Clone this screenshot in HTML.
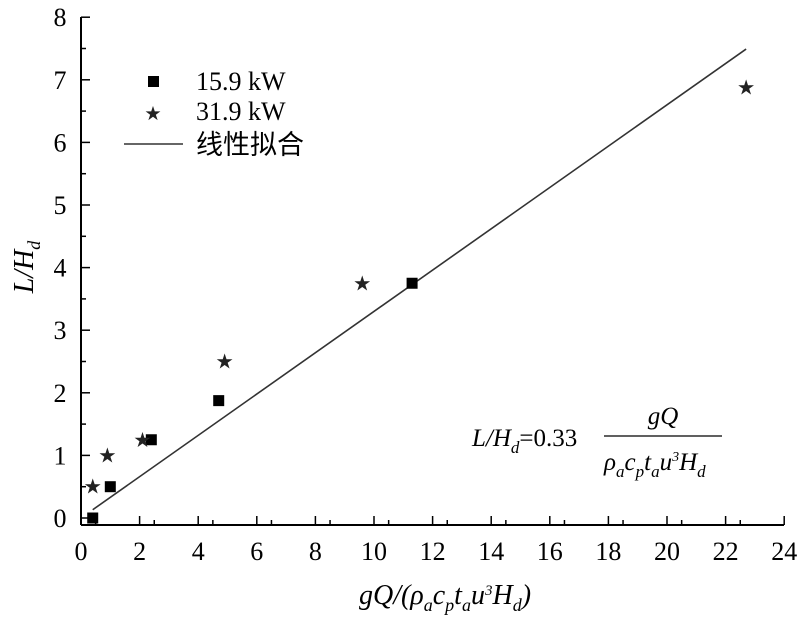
<!DOCTYPE html>
<html><head><meta charset="utf-8"><style>
body{margin:0;background:#fff}
svg{display:block;font-family:"Liberation Serif","Noto Serif CJK SC",serif}
</style></head><body>
<svg id="c" width="800" height="626" viewBox="0 0 800 626">
<g id="axes"></g>
<g id="marks"></g>
<g>
<rect x="148" y="76" width="11" height="11" fill="#000"/>
<text x="196" y="90" font-size="26">15.9 kW</text>
<text x="153" y="119" font-size="16" text-anchor="middle" fill="#222">★</text>
<text x="196" y="120" font-size="26">31.9 kW</text>
<line x1="124" y1="144" x2="183" y2="144" stroke="#333" stroke-width="1.5"/>
<text x="196" y="154" font-size="27" font-family="Noto Sans CJK SC, sans-serif">线性拟合</text>
</g>
<text transform="translate(33,267) rotate(-90)" font-size="28" font-style="italic" text-anchor="middle">L/H<tspan font-size="18" dy="7">d</tspan></text>
<text x="445" y="604" font-size="28" font-style="italic" text-anchor="middle">gQ/(ρ<tspan font-size="18" dy="7">a</tspan><tspan dy="-7">c</tspan><tspan font-size="18" dy="7">p</tspan><tspan dy="-7">t</tspan><tspan font-size="18" dy="7">a</tspan><tspan dy="-7">u</tspan><tspan font-size="15" dy="-9">3</tspan><tspan dy="9">H</tspan><tspan font-size="18" dy="7">d</tspan><tspan dy="-7">)</tspan></text>
<g font-size="25">
<text x="472" y="446" font-style="italic">L/H<tspan font-size="17" dy="7">d</tspan><tspan dy="-7" font-style="normal">=0.33</tspan></text>
<text x="663" y="424" font-style="italic" text-anchor="middle">gQ</text>
<line x1="604" y1="436" x2="722" y2="436" stroke="#000" stroke-width="1.2"/>
<text x="604" y="470" font-style="italic">ρ<tspan font-size="17" dy="7">a</tspan><tspan dy="-7">c</tspan><tspan font-size="17" dy="7">p</tspan><tspan dy="-7">t</tspan><tspan font-size="17" dy="7">a</tspan><tspan dy="-7">u</tspan><tspan font-size="14" dy="-9">3</tspan><tspan dy="9">H</tspan><tspan font-size="17" dy="7">d</tspan></text>
</g>
</svg>
<script>
const xTicks=[0,2,4,6,8,10,12,14,16,18,20,22,24];
const yTicks=[0,1,2,3,4,5,6,7,8];
const sqX=[0.4,1.0,2.4,4.7,11.3];
const sqY=[0.0,0.5,1.25,1.875,3.75];
const stX=[0.4,0.9,2.1,4.9,9.6,22.7];
const stY=[0.5,1.0,1.25,2.5,3.75,6.875];
const fitSlope=0.33, fitX0=0.4, fitX1=22.7;
const sx=v=>81+v*29.3, sy=v=>518-v*62.6;
const NS="http://www.w3.org/2000/svg";
const ax=document.getElementById('axes'), mk=document.getElementById('marks');
function mkEl(t,a,p){const e=document.createElementNS(NS,t);for(const k in a)e.setAttribute(k,a[k]);p.appendChild(e);return e;}
let l=mkEl('line',{x1:81,y1:525,x2:784,y2:525,stroke:'#000','stroke-width':2},ax);


l=mkEl('line',{x1:81,y1:525,x2:81,y2:17,stroke:'#000','stroke-width':2},ax);


xTicks.forEach((v,i)=>{const x=sx(v);
 mkEl('line',{x1:x,y1:525,x2:x,y2:516,stroke:'#000','stroke-width':1.5},ax);
 if(i<xTicks.length-1)mkEl('line',{x1:x+14.65,y1:525,x2:x+14.65,y2:520,stroke:'#000','stroke-width':1.5},ax);
 const t=mkEl('text',{x:x,y:560,'font-size':26,'text-anchor':'middle'},ax);t.textContent=v;
 
 });
yTicks.forEach((v,i)=>{const y=sy(v);
 mkEl('line',{x1:81,y1:y,x2:90,y2:y,stroke:'#000','stroke-width':1.5},ax);
 if(i<yTicks.length-1)mkEl('line',{x1:81,y1:y-31.3,x2:86,y2:y-31.3,stroke:'#000','stroke-width':1.5},ax);
 const t=mkEl('text',{x:60,y:y+9,'font-size':26,'text-anchor':'middle'},ax);t.textContent=v;
 
 });
l=mkEl('line',{x1:sx(fitX0),y1:sy(fitSlope*fitX0),x2:sx(fitX1),y2:sy(fitSlope*fitX1),stroke:'#333','stroke-width':1.6},mk);


sqX.forEach((v,i)=>{const r=mkEl('rect',{x:sx(v)-5.5,y:sy(sqY[i])-5.5,width:11,height:11,fill:'#000'},mk);
 
 });
stX.forEach((v,i)=>{const t=mkEl('text',{x:sx(v),y:sy(stY[i])+6,'font-size':17,'text-anchor':'middle',fill:'#222'},mk);t.textContent='★';
 
 });
</script>
</body></html>
